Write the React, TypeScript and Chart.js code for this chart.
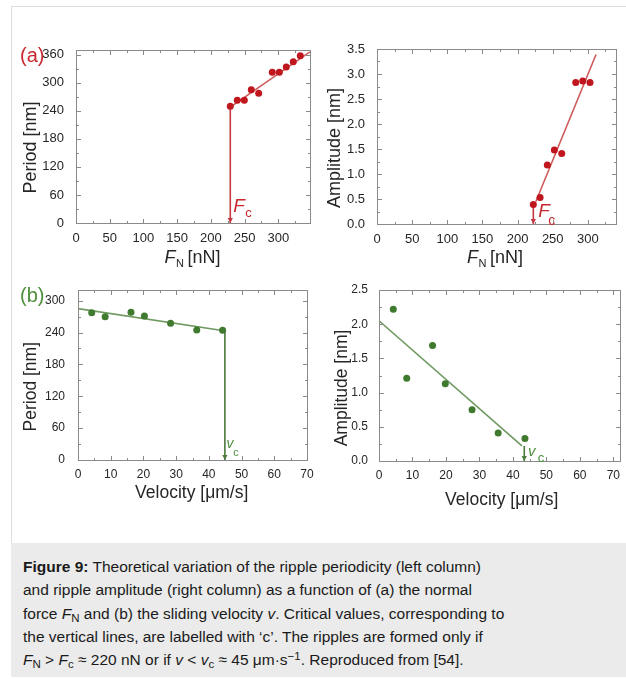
import React, { useEffect, useRef } from 'react';
import { Chart, registerables } from 'chart.js';

Chart.register(...registerables);

// ---------------- Data ----------------
// (a) left: ripple period vs normal force
const forceA = [228.8, 239.2, 249.6, 259.9, 270.9, 291.1, 301.5, 311.8, 322.2, 332.6];
const periodA = [249.6, 262.4, 262.4, 285.1, 277.4, 322.3, 322.3, 333.6, 345.0, 357.8];
const fitForceA = [228.8, 347];
const fitPeriodA = [248, 366];
const critForceA = 228.8;
const critPeriodA = 249.6;

// (a) right: ripple amplitude vs normal force
const forceB = [222.4, 232.0, 242.3, 252.3, 262.8, 282.7, 292.7, 303.0];
const amplitudeB = [0.39, 0.53, 1.18, 1.48, 1.41, 2.83, 2.86, 2.83];
const fitForceB = [226, 311.6];
const fitAmplitudeB = [0.45, 3.39];
const critForceB = 222.4;
const critAmplitudeB = 0.39;

// (b) left: ripple period vs sliding velocity
const velocityC = [4.2, 8.3, 16.2, 20.3, 28.3, 36.3, 44.2];
const periodC = [277.3, 269.7, 278.1, 271.1, 257.3, 244.7, 244.1];
const fitVelocityC = [0, 44.6];
const fitPeriodC = [285, 243.4];
const critVelocityC = 44.9;
const critPeriodC = 243.4;

// (b) right: ripple amplitude vs sliding velocity
const velocityD = [4.27, 8.28, 16.0, 19.8, 27.8, 35.6, 43.6];
const amplitudeD = [2.22, 1.21, 1.69, 1.13, 0.75, 0.41, 0.33];
const fitVelocityD = [0, 42.7];
const fitAmplitudeD = [2.05, 0.22];
const critVelocityD = 43.4;
const critAmplitudeD = 0.22;

// Axis ranges and tick steps
const forceMaxA = 347;
const forceMaxB = 340;
const periodMaxA = 370;
const amplitudeMaxB = 3.5;
const velocityMaxC = 70;
const periodMaxC = 320;
const velocityMaxD = 72;
const amplitudeMaxD = 2.5;
const forceStep = 50, forceMinor = 25;
const periodStep = 60, periodMinor = 30;
const amplitudeStep = 0.5, amplitudeMinor = 0.25;
const velocityStep = 10, velocityMinor = 5;

// ---------------- Styles ----------------
const FONT = "'Liberation Sans', Arial, Helvetica, sans-serif";
const RED_PT = '#c0161e';
const RED_FIT = '#cd5b5b';
const RED_CRIT = '#c43a40';
const RED_TXT = '#c8282e';
const GREEN_PT = '#3f7a2f';
const GREEN_FIT = '#6f9960';
const GREEN_CRIT = '#4a7a3c';
const GREEN_TXT = '#4d8f3c';
const FRAME = '#8a8a8a';
const TICK_TXT = '#262626';
const TITLE_TXT = '#262626';

const zip = (xs: number[], ys: number[]) => xs.map((x, i) => ({ x, y: ys[i] }));

const decorPlugin = {
  id: 'decor',
  afterDatasetsDraw(chart: any, _args: any, o: any) {
    const { ctx, chartArea: ca } = chart;
    const xs = chart.scales.x;
    const ys = chart.scales.y;
    const L = Math.round(ca.left), R = Math.round(ca.right), T = Math.round(ca.top), B = Math.round(ca.bottom);
    ctx.save();
    // frame
    ctx.strokeStyle = FRAME;
    ctx.lineWidth = 1;
    ctx.strokeRect(L + 0.5, T + 0.5, R - L, B - T);
    // inward ticks on all four sides
    const drawTicks = (scale: any, major: number, minor: number, horiz: boolean) => {
      const ratio = Math.round(major / minor);
      const n0 = Math.ceil(scale.min / minor - 1e-9);
      const n1 = Math.floor(scale.max / minor + 1e-9);
      ctx.beginPath();
      for (let n = n0; n <= n1; n++) {
        const len = n % ratio === 0 ? 4 : 2;
        const p = Math.round(scale.getPixelForValue(n * minor)) + 0.5;
        if (horiz) {
          ctx.moveTo(p, B); ctx.lineTo(p, B - len);
          ctx.moveTo(p, T + 1); ctx.lineTo(p, T + 1 + len);
        } else {
          ctx.moveTo(L + 1, p); ctx.lineTo(L + 1 + len, p);
          ctx.moveTo(R, p); ctx.lineTo(R - len, p);
        }
      }
      ctx.stroke();
    };
    drawTicks(xs, o.majorX, o.minorX, true);
    drawTicks(ys, o.majorY, o.minorY, false);

    // arrow head at the bottom of the critical line
    const px = xs.getPixelForValue(o.crit.x);
    ctx.fillStyle = o.crit.lineColor;
    ctx.beginPath();
    ctx.moveTo(px, B);
    ctx.lineTo(px - 2.6, B - 5);
    ctx.lineTo(px + 2.6, B - 5);
    ctx.closePath();
    ctx.fill();

    const ox = o.ox, oy = o.oy;
    ctx.textBaseline = 'alphabetic';
    ctx.textAlign = 'left';
    // critical value label
    ctx.fillStyle = o.crit.color;
    ctx.font = `italic ${o.crit.mainSize}px ${FONT}`;
    ctx.fillText(o.crit.main, px + o.crit.mainDx, B + o.crit.mainDy);
    ctx.font = `${o.crit.subSize}px ${FONT}`;
    ctx.fillText(o.crit.sub, px + o.crit.subDx, B + o.crit.subDy);

    // panel label
    if (o.panelLabel) {
      ctx.fillStyle = o.panelLabel.color;
      ctx.font = `${o.panelLabel.size}px ${FONT}`;
      ctx.fillText(o.panelLabel.text, o.panelLabel.x - ox, o.panelLabel.y - oy);
    }

    // y title
    ctx.fillStyle = TITLE_TXT;
    ctx.save();
    ctx.translate(o.yTitle.cx - ox, o.yTitle.cy - oy);
    ctx.rotate(-Math.PI / 2);
    ctx.textAlign = 'center';
    ctx.textBaseline = 'middle';
    ctx.font = `${o.yTitle.size}px ${FONT}`;
    ctx.fillText(o.yTitle.text, 0, 0);
    ctx.restore();

    // x title
    const xt = o.xTitle;
    if (xt.kind === 'force') {
      ctx.font = `italic ${xt.size}px ${FONT}`;
      const wF = ctx.measureText('F').width;
      ctx.font = `${xt.subSize}px ${FONT}`;
      const wN = ctx.measureText('N').width;
      ctx.font = `${xt.size}px ${FONT}`;
      const wU = ctx.measureText('[nN]').width;
      const total = wF + 0.5 + wN + xt.gap + wU;
      let x = xt.cx - ox - total / 2;
      const y = xt.baseline - oy;
      ctx.font = `italic ${xt.size}px ${FONT}`;
      ctx.fillText('F', x, y);
      x += wF + 0.5;
      ctx.font = `${xt.subSize}px ${FONT}`;
      ctx.fillText('N', x, y + xt.subDrop);
      x += wN + xt.gap;
      ctx.font = `${xt.size}px ${FONT}`;
      ctx.fillText('[nN]', x, y);
    } else {
      ctx.textAlign = 'center';
      ctx.font = `${xt.size}px ${FONT}`;
      ctx.fillText(xt.text, xt.cx - ox, xt.baseline - oy);
    }
    ctx.restore();
  },
};

type PanelSpec = {
  key: string;
  left: number; top: number; w: number; h: number;
  area: { l: number; t: number; r: number; b: number };
  points: { x: number; y: number }[];
  fit: { x: number; y: number }[];
  crit: { x: number; y: number }[];
  ptColor: string; fitColor: string; critColor: string;
  xMax: number; yMax: number;
  xStep: number; xMinor: number; yStep: number; yMinor: number;
  yDecimals: number;
  tickSize: number; xPad: number; yPad: number;
  decor: any;
};

const panels: PanelSpec[] = [
  {
    key: 'a-period',
    left: 12, top: 20, w: 306, h: 255,
    area: { l: 76, t: 50, r: 310, b: 223 },
    points: zip(forceA, periodA),
    fit: zip(fitForceA, fitPeriodA),
    crit: [{ x: critForceA, y: critPeriodA }, { x: critForceA, y: 0 }],
    ptColor: RED_PT, fitColor: RED_FIT, critColor: RED_CRIT,
    xMax: forceMaxA, yMax: periodMaxA,
    xStep: forceStep, xMinor: forceMinor, yStep: periodStep, yMinor: periodMinor,
    yDecimals: 0, tickSize: 13, xPad: 0, yPad: 4,
    decor: {
      panelLabel: { text: '(a)', color: RED_TXT, x: 20, y: 62, size: 20 },
      yTitle: { text: 'Period [nm]', cx: 31, cy: 147.5, size: 18 },
      xTitle: { kind: 'force', cx: 192.5, baseline: 263, size: 18, subSize: 11, subDrop: 4, gap: 3.5 },
      crit: { x: critForceA, color: RED_TXT, lineColor: RED_CRIT, main: 'F', sub: 'c', mainSize: 19, subSize: 13, mainDx: 3, mainDy: -11.3, subDx: 15, subDy: -6.3 },
    },
  },
  {
    key: 'a-amplitude',
    left: 318, top: 20, w: 308, h: 255,
    area: { l: 377, t: 49, r: 616, b: 224 },
    points: zip(forceB, amplitudeB),
    fit: zip(fitForceB, fitAmplitudeB),
    crit: [{ x: critForceB, y: critAmplitudeB }, { x: critForceB, y: 0 }],
    ptColor: RED_PT, fitColor: RED_FIT, critColor: RED_CRIT,
    xMax: forceMaxB, yMax: amplitudeMaxB,
    xStep: forceStep, xMinor: forceMinor, yStep: amplitudeStep, yMinor: amplitudeMinor,
    yDecimals: 1, tickSize: 13, xPad: 0, yPad: 4,
    decor: {
      yTitle: { text: 'Amplitude [nm]', cx: 335.5, cy: 148, size: 18 },
      xTitle: { kind: 'force', cx: 495, baseline: 263, size: 18, subSize: 11, subDrop: 4, gap: 3.5 },
      crit: { x: critForceB, color: RED_TXT, lineColor: RED_CRIT, main: 'F', sub: 'c', mainSize: 19, subSize: 14, mainDx: 5, mainDy: -7, subDx: 15, subDy: 1 },
    },
  },
  {
    key: 'b-period',
    left: 12, top: 275, w: 306, h: 240,
    area: { l: 78, t: 290, r: 307, b: 460 },
    points: zip(velocityC, periodC),
    fit: zip(fitVelocityC, fitPeriodC),
    crit: [{ x: critVelocityC, y: critPeriodC }, { x: critVelocityC, y: 0 }],
    ptColor: GREEN_PT, fitColor: GREEN_FIT, critColor: GREEN_CRIT,
    xMax: velocityMaxC, yMax: periodMaxC,
    xStep: velocityStep, xMinor: velocityMinor, yStep: periodStep, yMinor: periodMinor,
    yDecimals: 0, tickSize: 12, xPad: -1, yPad: 5,
    decor: {
      panelLabel: { text: '(b)', color: GREEN_TXT, x: 20, y: 302, size: 20 },
      yTitle: { text: 'Period [nm]', cx: 30.8, cy: 386.7, size: 17.5 },
      xTitle: { kind: 'plain', text: 'Velocity [\u03bcm/s]', cx: 191.7, baseline: 498, size: 17.5 },
      crit: { x: critVelocityC, color: GREEN_TXT, lineColor: GREEN_CRIT, main: 'v', sub: 'c', mainSize: 14, subSize: 11, mainDx: 1.7, mainDy: -11.7, subDx: 8.3, subDy: -4 },
    },
  },
  {
    key: 'b-amplitude',
    left: 318, top: 275, w: 308, h: 240,
    area: { l: 379, t: 290, r: 620, b: 461 },
    points: zip(velocityD, amplitudeD),
    fit: zip(fitVelocityD, fitAmplitudeD),
    crit: [{ x: critVelocityD, y: critAmplitudeD }, { x: critVelocityD, y: 0 }],
    ptColor: GREEN_PT, fitColor: GREEN_FIT, critColor: GREEN_CRIT,
    xMax: velocityMaxD, yMax: amplitudeMaxD,
    xStep: velocityStep, xMinor: velocityMinor, yStep: amplitudeStep, yMinor: amplitudeMinor,
    yDecimals: 1, tickSize: 12, xPad: -1, yPad: 3,
    decor: {
      yTitle: { text: 'Amplitude [nm]', cx: 341.7, cy: 388, size: 17.5 },
      xTitle: { kind: 'plain', text: 'Velocity [\u03bcm/s]', cx: 501.7, baseline: 505, size: 17.5 },
      crit: { x: critVelocityD, color: GREEN_TXT, lineColor: GREEN_CRIT, main: 'v', sub: 'c', mainSize: 15, subSize: 13, mainDx: 3.7, mainDy: -5.3, subDx: 13.4, subDy: 0.7 },
    },
  },
];

function Panel({ p }: { p: PanelSpec }) {
  const ref = useRef<HTMLCanvasElement>(null);
  useEffect(() => {
    const yWidth = p.area.l - p.left;
    const xHeight = p.top + p.h - p.area.b;
    const chart = new Chart(ref.current as HTMLCanvasElement, {
      type: 'scatter',
      data: {
        datasets: [
          { data: p.points, backgroundColor: p.ptColor, borderColor: p.ptColor, pointRadius: 3.5, borderWidth: 0, order: 0 },
          { data: p.fit, showLine: true, borderColor: p.fitColor, borderWidth: 1.6, pointRadius: 0, order: 1 },
          { data: p.crit, showLine: true, borderColor: p.critColor, borderWidth: 1.6, pointRadius: 0, order: 2 },
        ],
      } as any,
      options: {
        responsive: false,
        animation: false,
        devicePixelRatio: 1,
        layout: { padding: { top: p.area.t - p.top, right: p.left + p.w - p.area.r, left: 0, bottom: 0 } },
        plugins: {
          legend: { display: false },
          tooltip: { enabled: false },
          decor: {
            ...p.decor,
            ox: p.left, oy: p.top,
            majorX: p.xStep, minorX: p.xMinor, majorY: p.yStep, minorY: p.yMinor,
          },
        } as any,
        scales: {
          x: {
            type: 'linear', min: 0, max: p.xMax,
            grid: { display: false }, border: { display: false },
            ticks: {
              stepSize: p.xStep, includeBounds: false, autoSkip: false, maxRotation: 0,
              padding: p.xPad, color: TICK_TXT, font: { family: FONT, size: p.tickSize },
              callback: (v: any) => String(Math.round(Number(v))),
            },
            afterFit: (s: any) => { s.height = xHeight; },
          },
          y: {
            type: 'linear', min: 0, max: p.yMax,
            grid: { display: false }, border: { display: false },
            ticks: {
              stepSize: p.yStep, includeBounds: false, autoSkip: false,
              padding: p.yPad, color: TICK_TXT, font: { family: FONT, size: p.tickSize },
              callback: (v: any) => Number(v).toFixed(p.yDecimals),
            },
            afterFit: (s: any) => { s.width = yWidth; },
          },
        } as any,
      },
      plugins: [decorPlugin as any],
    });
    return () => chart.destroy();
  }, []);
  return (
    <canvas
      ref={ref}
      width={p.w}
      height={p.h}
      style={{ position: 'absolute', left: p.left, top: p.top, width: p.w, height: p.h, display: 'block' }}
    />
  );
}

const subStyle: React.CSSProperties = { fontSize: 11.5, lineHeight: 0, verticalAlign: '-0.25em' };
const supStyle: React.CSSProperties = { fontSize: 11.5, lineHeight: 0, verticalAlign: '0.45em' };

export default function App() {
  return (
    <div style={{ position: 'absolute', left: 0, top: 0, width: 626, height: 679, background: '#ffffff', overflow: 'hidden' }}>
      <div style={{ position: 'absolute', left: 11, top: 6, width: 615, height: 537, borderLeft: '1px solid #dedede', borderTop: '1px solid #dedede', boxSizing: 'border-box' }} />
      {panels.map((p) => <Panel key={p.key} p={p} />)}
      <div style={{ position: 'absolute', left: 11, top: 543, width: 615, height: 134, background: '#ebebeb' }}>
        <div style={{ position: 'absolute', left: 12, top: 12, fontFamily: FONT, fontSize: 15.5, lineHeight: '23.3px', color: '#1a1a1a', whiteSpace: 'nowrap' }}>
          <b>Figure 9:</b> Theoretical variation of the ripple periodicity (left column)<br />
          and ripple amplitude (right column) as a function of (a) the normal<br />
          force <i>F</i><span style={subStyle}>N</span> and (b) the sliding velocity <i>v</i>. Critical values, corresponding to<br />
          the vertical lines, are labelled with ‘c’. The ripples are formed only if<br />
          <i>F</i><span style={subStyle}>N</span> &gt; <i>F</i><span style={subStyle}>c</span> ≈ 220 nN or if <i>v</i> &lt; <i>v</i><span style={subStyle}>c</span> ≈ 45 μm·s<span style={supStyle}>−1</span>. Reproduced from [54].
        </div>
      </div>
    </div>
  );
}
